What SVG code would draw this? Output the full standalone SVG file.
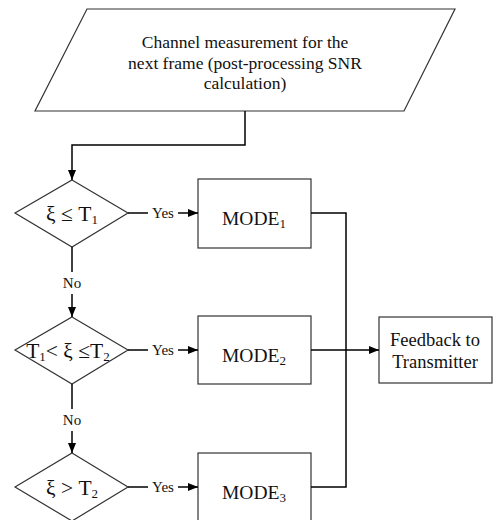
<svg xmlns="http://www.w3.org/2000/svg" width="493" height="520" viewBox="0 0 493 520">
<style>
.sh{fill:#fff;stroke:#333;stroke-width:1.2}
.cn{fill:none;stroke:#000;stroke-width:1.5}
text{font-family:"Liberation Serif","Times New Roman",serif;fill:#111;text-anchor:middle}
.t17{font-size:17.5px}
.t19{font-size:19.5px}
.t21{font-size:21.5px}
.t18{font-size:18.5px}
.t14{font-size:15px}
.sub{font-size:13px}
</style>
<defs>
<marker id="ah" viewBox="0 0 10 8" refX="10" refY="4" markerWidth="10" markerHeight="8" markerUnits="userSpaceOnUse" orient="auto">
<path d="M0,0 L10,4 L0,8 Z" fill="#000"/>
</marker>
</defs>
<rect width="493" height="520" fill="#fff"/>
<g id="input">
<polygon class="sh" points="87,9 455,9 404,111 35,111"/>
<text class="t17" x="245" y="48">Channel measurement for the</text>
<text class="t17" x="245" y="69">next frame (post-processing SNR</text>
<text class="t17" x="245" y="89">calculation)</text>
</g>
<g id="dec1">
<polygon class="sh" points="72,180 128,213 72,247 15,213"/>
<text class="t21" x="72" y="221">ξ ≤ T<tspan class="sub" dy="3">1</tspan></text>
</g>
<g id="dec2">
<polygon class="sh" points="72,317 128,350 72,384 15,350"/>
<text class="t21" x="68" y="358">T<tspan class="sub" dy="3">1</tspan><tspan dy="-3">&lt; ξ ≤T</tspan><tspan class="sub" dy="3">2</tspan></text>
</g>
<g id="dec3">
<polygon class="sh" points="72,453 128,487 72,521 15,487"/>
<text class="t21" x="72" y="495">ξ &gt; T<tspan class="sub" dy="3">2</tspan></text>
</g>
<g id="mode1">
<rect class="sh" x="198" y="179" width="113" height="69"/>
<text class="t19" x="254" y="225">MODE<tspan class="sub" dy="3">1</tspan></text>
</g>
<g id="mode2">
<rect class="sh" x="198" y="316" width="113" height="68"/>
<text class="t19" x="254" y="362">MODE<tspan class="sub" dy="3">2</tspan></text>
</g>
<g id="mode3">
<rect class="sh" x="198" y="453" width="113" height="68"/>
<text class="t19" x="254" y="499">MODE<tspan class="sub" dy="3">3</tspan></text>
</g>
<g id="feedback">
<rect class="sh" x="379" y="317" width="113" height="66"/>
<text class="t18" x="435" y="346">Feedback to</text>
<text class="t18" x="435" y="368">Transmitter</text>
</g>
<g id="connectors">
<path class="cn" d="M245,111 V145 H72 V180" marker-end="url(#ah)"/>
<path class="cn" d="M128,213 H148"/>
<path class="cn" d="M178,213 H198" marker-end="url(#ah)"/>
<path class="cn" d="M128,350 H148"/>
<path class="cn" d="M178,350 H198" marker-end="url(#ah)"/>
<path class="cn" d="M128,487 H148"/>
<path class="cn" d="M178,487 H198" marker-end="url(#ah)"/>
<path class="cn" d="M72,247 V272"/>
<path class="cn" d="M72,294 V317" marker-end="url(#ah)"/>
<path class="cn" d="M72,384 V409"/>
<path class="cn" d="M72,431 V453" marker-end="url(#ah)"/>
<path class="cn" d="M311,213 H346 V487 H311"/>
<path class="cn" d="M311,350 H379" marker-end="url(#ah)"/>
<text class="t14" x="163" y="218">Yes</text>
<text class="t14" x="163" y="355">Yes</text>
<text class="t14" x="163" y="492">Yes</text>
<text class="t14" x="72" y="288">No</text>
<text class="t14" x="72" y="425">No</text>
</g>
</svg>
